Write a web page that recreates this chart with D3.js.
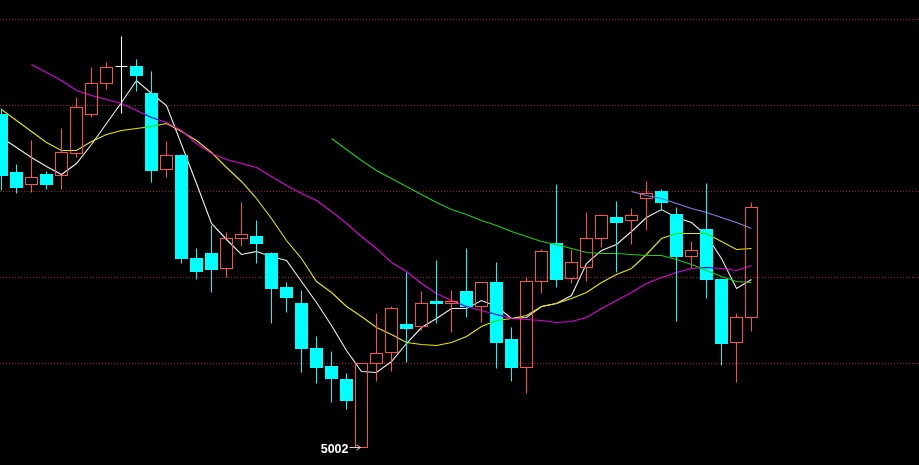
<!DOCTYPE html>
<html>
<head>
<meta charset="utf-8">
<script src="https://cdn.jsdelivr.net/npm/d3@7"></script>
<style>
html,body{margin:0;padding:0;background:#000;}
svg{display:block;}
</style>
</head>
<body>
<svg id="chart" width="919" height="465"></svg>
<script>
// ---- data (prices) ----
const candleIndex = d3.range(51);
const candleOpen  = [5335,5277,5265,5275,5274,5296,5335,5366,5383,5383,5356,5280,5294,5191,5196,5181,5211,5213,5196,5162,5146,5101,5083,5070,5002,5086,5097,5125,5123,5148,5146,5158,5143,5167,5110,5082,5168,5206,5171,5182,5211,5232,5229,5251,5258,5235,5193,5220,5170,5107,5132];
const candleHigh  = [5341,5285,5309,5278,5321,5352,5382,5387,5413,5390,5378,5308,5295,5201,5224,5217,5247,5229,5197,5167,5159,5113,5098,5076,5086,5136,5143,5177,5158,5189,5159,5201,5167,5187,5122,5172,5200,5265,5200,5237,5235,5248,5241,5268,5260,5242,5208,5266,5171,5136,5247];
const candleLow   = [5259,5256,5257,5260,5260,5292,5332,5360,5336,5358,5267,5272,5186,5170,5157,5172,5203,5186,5126,5137,5077,5066,5047,5040,5002,5068,5078,5087,5119,5126,5117,5132,5127,5081,5068,5056,5156,5162,5166,5168,5202,5177,5205,5219,5239,5128,5181,5151,5084,5067,5118];
const candleClose = [5274,5262,5272,5265,5297,5342,5366,5382,5383,5374,5279,5294,5191,5178,5180,5211,5215,5206,5161,5152,5101,5082,5071,5049,5086,5096,5141,5121,5146,5146,5148,5143,5167,5107,5082,5168,5198,5170,5187,5211,5234,5227,5234,5256,5247,5193,5199,5170,5106,5132,5242];

const ma5  = [5312,5302,5292,5283,5275,5286,5305,5326,5347,5369,5356,5344,5305,5266,5226,5210,5195,5198,5193,5189,5168,5147,5124,5099,5078,5077,5088,5106,5122,5131,5141,5141,5149,5143,5131,5132,5143,5146,5154,5186,5199,5205,5218,5232,5240,5232,5227,5214,5191,5161,5170];
const ma10 = [5340,5329,5318,5307,5299,5299,5308,5315,5319,5321,5323,5326,5318,5309,5297,5282,5268,5251,5231,5209,5191,5168,5157,5143,5133,5122,5115,5107,5105,5104,5107,5113,5123,5129,5131,5134,5143,5146,5151,5157,5167,5175,5181,5195,5211,5216,5216,5216,5208,5200,5201];
const ma20 = [null,null,5385,5377,5369,5359,5354,5350,5346,5339,5332,5327,5319,5306,5296,5290,5286,5282,5273,5264,5256,5249,5238,5226,5213,5201,5187,5178,5166,5156,5149,5143,5139,5135,5131,5130,5129,5127,5128,5132,5141,5149,5157,5166,5172,5177,5181,5182,5181,5179,5184];
const ma60 = [null,null,null,null,null,null,null,null,null,null,null,null,null,null,null,null,null,null,null,null,null,null,5311,5300,5289,5279,5271,5263,5255,5247,5240,5235,5229,5224,5218,5213,5208,5205,5201,5197,5196,5196,5195,5194,5194,5190,5185,5179,5173,5168,5167];
const ma120 = [null,null,null,null,null,null,null,null,null,null,null,null,null,null,null,null,null,null,null,null,null,null,null,null,null,null,null,null,null,null,null,null,null,null,null,null,null,null,null,null,null,null,5258,5254,5251,5246,5241,5237,5232,5227,5221];

const gridPrices = [5430, 5344, 5258, 5172, 5086];
const lowLabel = "5002";
const lowIndex = 24;

// ---- drawing ----
const W = 919, H = 465;
const svg = d3.select("#chart");
svg.append("rect").attr("width", W).attr("height", H).attr("fill", "#000");

const x = d3.scaleLinear().domain([0, 50]).range([1, 751]);
const y = d3.scaleLinear().domain([4984, 5449]).range([465, 0]);
const py = v => Math.round(y(v)) + 0.5;
const px = i => Math.round(x(i)) + 0.5;

// grid
svg.append("g").selectAll("line").data(gridPrices).join("line")
  .attr("x1", 0).attr("x2", W)
  .attr("y1", d => py(d)).attr("y2", d => py(d))
  .attr("stroke", "#b01818").attr("stroke-width", 1)
  .attr("stroke-dasharray", "1,2");

const lineDefs = [
  {data: ma5, color: "#f0f0f0"},
  {data: ma10, color: "#e8e800"},
  {data: ma20, color: "#e000e0"},
  {data: ma60, color: "#18d018"},
  {data: ma120, color: "#8484e0"}
];
const lineGen = d3.line()
  .defined(d => d != null)
  .x((d, i) => x(i) + 0.5)
  .y(d => y(d) + 0.5);

function drawLines(g) {
  g.selectAll("path").data(lineDefs).join("path")
    .attr("d", d => lineGen(d.data))
    .attr("fill", "none")
    .attr("stroke", d => d.color)
    .attr("stroke-width", 1.1);
}
drawLines(svg.append("g"));

// candles
const candles = candleIndex.map(i => ({
  i, o: candleOpen[i], h: candleHigh[i], l: candleLow[i], c: candleClose[i]
}));
const RED = "#ff4c4c", CYAN = "#00ffff";
const cg = svg.append("g");

candles.forEach(d => {
  const cx = px(d.i);
  if (d.c > d.o) {
    // hollow red
    const top = py(d.c), bot = py(d.o);
    if (py(d.h) < top) cg.append("line").attr("x1", cx).attr("x2", cx).attr("y1", py(d.h)).attr("y2", top).attr("stroke", RED);
    if (py(d.l) > bot) cg.append("line").attr("x1", cx).attr("x2", cx).attr("y1", bot).attr("y2", py(d.l)).attr("stroke", RED);
    cg.append("rect").attr("x", cx - 6).attr("y", top).attr("width", 12).attr("height", bot - top)
      .attr("fill", "none").attr("stroke", RED).attr("stroke-width", 1);
  } else if (d.c < d.o) {
    const top = py(d.o), bot = py(d.c);
    cg.append("line").attr("x1", cx).attr("x2", cx).attr("y1", py(d.h)).attr("y2", py(d.l)).attr("stroke", CYAN);
    cg.append("rect").attr("class", "dn").attr("x", cx - 6).attr("y", top).attr("width", 12).attr("height", Math.max(1, bot - top))
      .attr("fill", CYAN).attr("stroke", CYAN).attr("stroke-width", 1);
  } else {
    const yy = py(d.o);
    cg.append("line").attr("x1", cx).attr("x2", cx).attr("y1", py(d.h)).attr("y2", py(d.l)).attr("stroke", "#ffffff");
    cg.append("line").attr("x1", cx - 6).attr("x2", cx + 6).attr("y1", yy).attr("y2", yy).attr("stroke", "#ffffff");
  }
});

// lines seen through the cyan bodies (multiplied)
const clip = svg.append("defs").append("clipPath").attr("id", "dnclip");
candles.filter(d => d.c < d.o).forEach(d => {
  const cx = px(d.i);
  clip.append("rect").attr("x", cx - 6.5).attr("y", py(d.o) - 0.5)
    .attr("width", 13).attr("height", py(d.c) - py(d.o) + 1);
});
const mg = svg.append("g").attr("clip-path", "url(#dnclip)").style("mix-blend-mode", "multiply");
drawLines(mg);

// low label
const lx = px(lowIndex), ly = py(candleLow[lowIndex]);
svg.append("text").attr("x", lx - 13).attr("y", ly + 5)
  .attr("text-anchor", "end")
  .attr("font-family", "Liberation Sans, Arial, sans-serif")
  .attr("font-weight", "bold").attr("font-size", 12.5)
  .attr("fill", "#ffffff").text(lowLabel);
svg.append("line").attr("x1", lx - 12).attr("x2", lx - 1).attr("y1", ly).attr("y2", ly)
  .attr("stroke", "#f0c8c8");
svg.append("path").attr("d", `M${lx - 1},${ly} l-4,-2.5 M${lx - 1},${ly} l-4,2.5`)
  .attr("stroke", "#f0c8c8").attr("fill", "none");
</script>
</body>
</html>
